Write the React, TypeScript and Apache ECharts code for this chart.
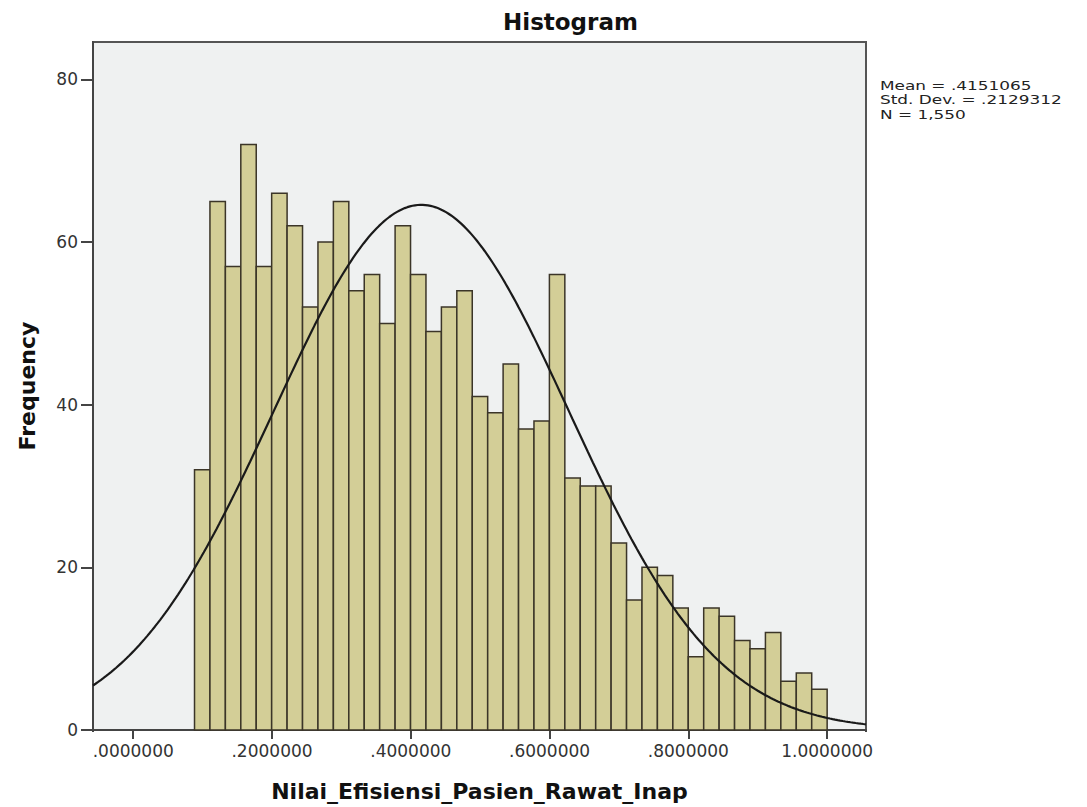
import React, { useEffect, useRef } from "react";
import * as echarts from "echarts";

// Histogram bin counts (41 bins)
const counts = [32, 65, 57, 72, 57, 66, 62, 52, 60, 65, 54, 56, 50, 62, 56, 49, 52, 54, 41, 39, 45, 37, 38, 56, 31, 30, 30, 23, 16, 20, 19, 15, 9, 15, 14, 11, 10, 12, 6, 7, 5];
const binStart = 0.0883;
const binEnd = 1.0;
const xTicks = [0, 0.2, 0.4, 0.6, 0.8, 1.0];
const yTicks = [0, 20, 40, 60, 80];
const stats = { mean: 0.4151065, sd: 0.2129312, n: 1550 };
const statLines = ["Mean = .4151065", "Std. Dev. = .2129312", "N = 1,550"];
const xMin = -0.058;
const xMax = 1.056;
const yMax = 84.6;

export default function App() {
  const ref = useRef<HTMLDivElement>(null);
  useEffect(() => {
    document.body.style.margin = "0";
    const chart = echarts.init(ref.current!, null, { renderer: "svg" });
    const w = (binEnd - binStart) / counts.length;
    const bars = counts.map((c, i) => [binStart + i * w, binStart + (i + 1) * w, c]);
    const curve: number[][] = [];
    const steps = 300;
    const k = (stats.n * w) / (stats.sd * Math.sqrt(2 * Math.PI));
    for (let i = 0; i <= steps; i++) {
      const x = xMin + ((xMax - xMin) * i) / steps;
      const z = (x - stats.mean) / stats.sd;
      curve.push([x, k * Math.exp(-0.5 * z * z)]);
    }
    const fmt = (v: number) => v.toFixed(7).replace(/^0/, "");
    // white masks hiding the extra ticks ECharts draws at the axis extents
    const mask = (x: number, y: number, width: number, height: number) => ({
      type: "rect",
      z: 100,
      silent: true,
      shape: { x, y, width, height },
      style: { fill: "#ffffff" },
    });
    chart.setOption({
      animation: false,
      backgroundColor: "#ffffff",
      title: {
        text: "Histogram",
        left: 503,
        top: 10,
        padding: 0,
        textStyle: { fontFamily: "DejaVu Sans", fontWeight: "bold", fontSize: 23, color: "#111" },
      },
      grid: {
        left: 93,
        right: 221,
        top: 42,
        bottom: 77,
        show: true,
        backgroundColor: "#eff1f1",
        borderColor: "#555",
        borderWidth: 2,
      },
      xAxis: {
        type: "value",
        min: xMin,
        max: xMax,
        name: "Nilai_Efisiensi_Pasien_Rawat_Inap",
        nameLocation: "middle",
        nameGap: 50,
        nameTextStyle: { fontFamily: "DejaVu Sans", fontWeight: "bold", fontSize: 22, color: "#111" },
        axisLine: { show: true, onZero: false, lineStyle: { color: "#444", width: 2 } },
        axisTick: { show: true, inside: false, length: 9, lineStyle: { color: "#444", width: 2 } },
        axisLabel: {
          customValues: xTicks,
          formatter: fmt,
          margin: 12,
          fontFamily: "DejaVu Sans",
          fontSize: 17,
          color: "#333",
        },
        splitLine: { show: false },
      },
      yAxis: {
        type: "value",
        min: 0,
        max: yMax,
        interval: 20,
        name: "Frequency",
        nameLocation: "middle",
        nameRotate: 90,
        nameGap: 55,
        nameTextStyle: { fontFamily: "DejaVu Sans", fontWeight: "bold", fontSize: 22, color: "#111" },
        axisLine: { show: true, onZero: false, lineStyle: { color: "#444", width: 2 } },
        axisTick: { show: true, inside: false, length: 12, lineStyle: { color: "#444", width: 2 } },
        axisLabel: {
          customValues: yTicks,
          margin: 15,
          fontFamily: "DejaVu Sans",
          fontSize: 17,
          color: "#333",
        },
        splitLine: { show: false },
      },
      graphic: [
        {
          type: "text",
          x: 880,
          y: 78,
          scaleX: 1.3,
          style: {
            text: statLines.join("\n"),
            fontFamily: "DejaVu Sans",
            fontSize: 13,
            lineHeight: 14.7,
            fill: "#222",
          },
        },
        mask(76, 38, 16, 8),
        mask(90, 732, 6, 12),
        mask(863, 732, 7, 12),
      ],
      series: [
        {
          type: "custom",
          data: bars,
          encode: { x: [0, 1], y: 2 },
          renderItem: (params: any, api: any) => {
            const s = api.value(0);
            const e = api.value(1);
            const c = api.value(2);
            const p0 = api.coord([s, c]);
            const p1 = api.coord([e, 0]);
            return {
              type: "rect",
              shape: { x: p0[0], y: p0[1], width: p1[0] - p0[0], height: p1[1] - p0[1] },
              style: { fill: "#d3ce97", stroke: "#3b3528", lineWidth: 1.5 },
            };
          },
        },
        {
          type: "line",
          data: curve,
          showSymbol: false,
          symbol: "none",
          clip: true,
          lineStyle: { color: "#1a1a1a", width: 2.2 },
          z: 5,
        },
      ],
    });
    return () => chart.dispose();
  }, []);
  return <div ref={ref} style={{ width: 1087, height: 807 }} />;
}
